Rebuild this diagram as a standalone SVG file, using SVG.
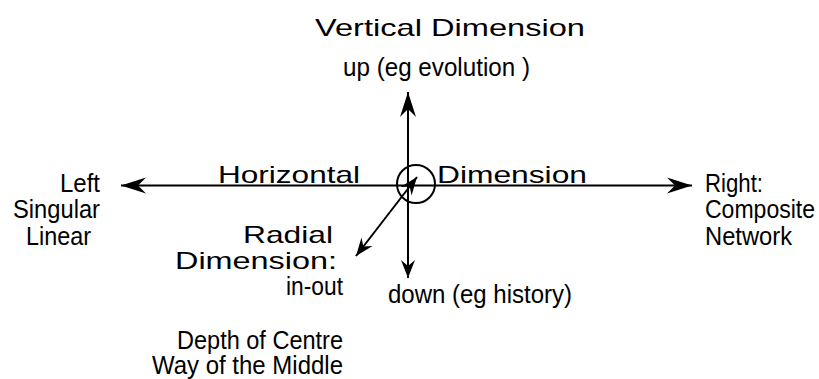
<svg xmlns="http://www.w3.org/2000/svg" width="819" height="379" viewBox="0 0 819 379">
<style>
.n{font-family:"Liberation Sans Narrow","Liberation Sans",Arial,sans-serif;font-size:25px;fill:#000}
.w{font-family:"Liberation Sans",Arial,sans-serif;font-size:24px;fill:#000}
.ln{stroke:#000;stroke-width:2;fill:none}
</style>
<defs>
<marker id="big" markerUnits="userSpaceOnUse" viewBox="-26 -9 28 18" refX="0" refY="0" markerWidth="28" markerHeight="18" orient="auto">
<path d="M0,0 L-25,-8 L-17,0 L-25,8 Z" fill="#000"/>
</marker>
<marker id="sm" markerUnits="userSpaceOnUse" viewBox="-19 -8 21 16" refX="0" refY="0" markerWidth="21" markerHeight="16" orient="auto">
<path d="M0,0 L-18,-7 L-12,0 L-18,7 Z" fill="#000"/>
</marker>
</defs>
<rect width="819" height="379" fill="#fff"/>
<g id="connectors">
<line class="ln" x1="408" y1="262" x2="408" y2="92" marker-end="url(#big)"/>
<line class="ln" x1="408" y1="116" x2="408" y2="278" marker-end="url(#sm)"/>
<line class="ln" x1="400" y1="185.5" x2="121" y2="185.5" marker-end="url(#big)"/>
<line class="ln" x1="400" y1="185.5" x2="692" y2="185.5" marker-end="url(#big)"/>
<line class="ln" x1="390" y1="212" x2="356" y2="256" marker-end="url(#sm)"/>
<line class="ln" x1="390" y1="212" x2="417" y2="177" marker-end="url(#sm)"/>
</g>
<g id="centre">
<circle cx="416" cy="184" r="19" fill="none" stroke="#000" stroke-width="2"/>
</g>
<g id="vertical">
<text class="w" x="315" y="36" textLength="270" lengthAdjust="spacingAndGlyphs">Vertical Dimension</text>
</g>
<g id="up">
<text class="n" x="343" y="76" textLength="187" lengthAdjust="spacingAndGlyphs">up (eg evolution )</text>
</g>
<g id="horizontal">
<text class="w" x="218" y="183" textLength="142" lengthAdjust="spacingAndGlyphs">Horizontal</text>
<text class="w" x="437" y="183" textLength="150" lengthAdjust="spacingAndGlyphs">Dimension</text>
</g>
<g id="left">
<text class="n" x="60" y="192" textLength="40" lengthAdjust="spacingAndGlyphs">Left</text>
<text class="n" x="13" y="218" textLength="87" lengthAdjust="spacingAndGlyphs">Singular</text>
<text class="n" x="26" y="245" textLength="65" lengthAdjust="spacingAndGlyphs">Linear</text>
</g>
<g id="right">
<text class="n" x="705" y="192" textLength="58" lengthAdjust="spacingAndGlyphs">Right:</text>
<text class="n" x="705" y="218" textLength="110" lengthAdjust="spacingAndGlyphs">Composite</text>
<text class="n" x="705" y="245" textLength="87" lengthAdjust="spacingAndGlyphs">Network</text>
</g>
<g id="radial">
<text class="w" x="243" y="243" textLength="90" lengthAdjust="spacingAndGlyphs">Radial</text>
<text class="w" x="175" y="269" textLength="162" lengthAdjust="spacingAndGlyphs">Dimension:</text>
<text class="n" x="286" y="295" textLength="57" lengthAdjust="spacingAndGlyphs">in-out</text>
</g>
<g id="down">
<text class="n" x="388" y="303" textLength="184" lengthAdjust="spacingAndGlyphs">down (eg history)</text>
</g>
<g id="depth">
<text class="n" x="177" y="349" textLength="166" lengthAdjust="spacingAndGlyphs">Depth of Centre</text>
<text class="n" x="152" y="374" textLength="191" lengthAdjust="spacingAndGlyphs">Way of the Middle</text>
</g>
</svg>
